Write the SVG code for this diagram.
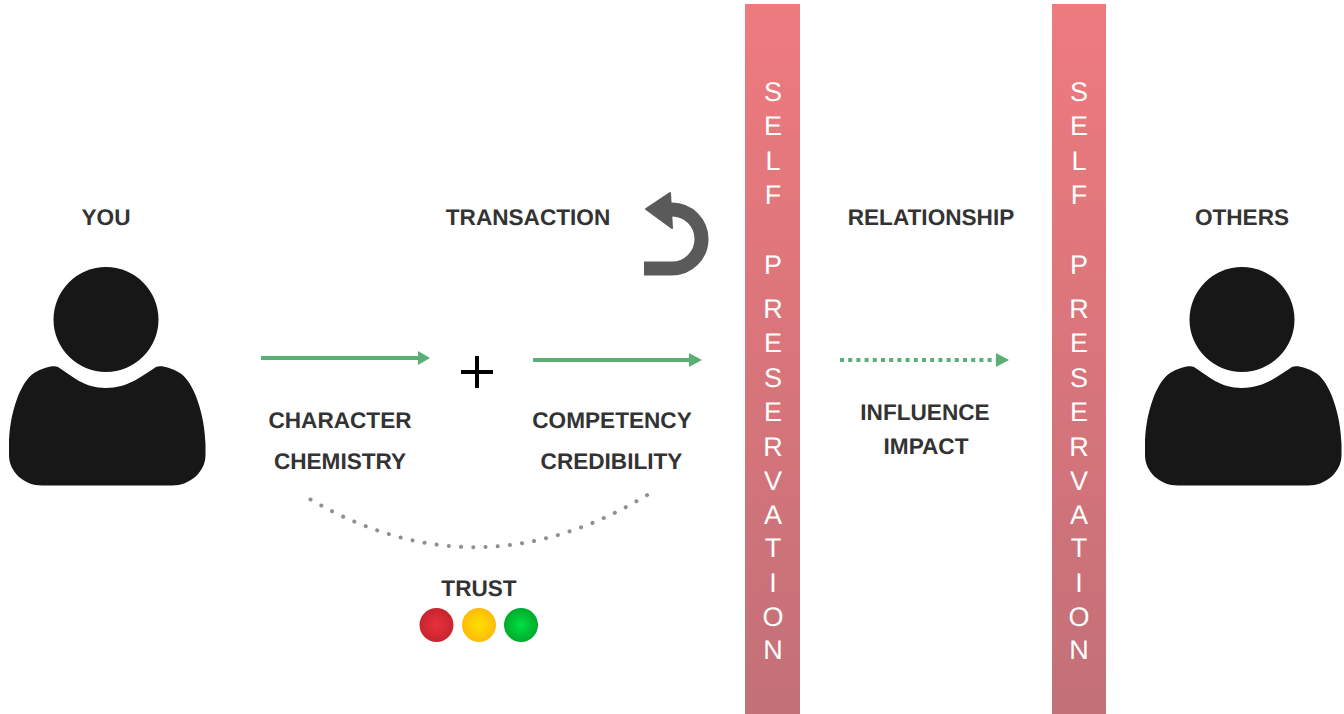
<svg xmlns="http://www.w3.org/2000/svg" width="1344" height="714" viewBox="0 0 1344 714">
<style>
text{text-rendering:geometricPrecision}
.t{font-family:"Liberation Sans",Arial,sans-serif;font-weight:700;font-size:22.600px;fill:#333;text-anchor:middle}
.v{font-family:"Liberation Sans",Arial,sans-serif;font-size:27px;fill:#fff;text-anchor:middle}
.c{fill:none;stroke:#5aaf74;stroke-width:4}
.h{fill:#5aaf74}
</style>
<defs>
<linearGradient id="bar" x1="0" y1="0" x2="0" y2="1"><stop offset="0" stop-color="#ee7a7e"/><stop offset="1" stop-color="#c37078"/></linearGradient>
<radialGradient id="r"><stop offset="0" stop-color="#e8323c"/><stop offset="1" stop-color="#c8242f"/></radialGradient>
<radialGradient id="y"><stop offset="0" stop-color="#ffe000"/><stop offset="1" stop-color="#fdbb0a"/></radialGradient>
<radialGradient id="g"><stop offset="0" stop-color="#00e040"/><stop offset="1" stop-color="#00aa2c"/></radialGradient>
<g id="person" fill="#171717">
<circle cx="106" cy="319.500" r="52.500"/>
<path d="M58 367C72 376 84 388 106 388C128 388 142 376 156 367C160 365 170 367 180 373C194 382 205 415 205.500 445V455C205.500 472 190 485.500 172 485.500H42C24 485.500 9 472 9 455V445C9 415 20 382 34 373C44 367 54 365 58 367Z"/>
</g>
</defs>
<g id="you"><use href="#person"/><text class="t" x="106" y="225">YOU</text></g>
<g id="others"><use href="#person" x="1136"/><text class="t" x="1242" y="225">OTHERS</text></g>
<g id="bar1"><rect x="745" y="4" width="55" height="710" fill="url(#bar)"/>
<g><text class="v" x="773" y="101">S</text><text class="v" x="773" y="135">E</text><text class="v" x="773" y="170">L</text><text class="v" x="773" y="204">F</text><text class="v" x="773" y="274">P</text><text class="v" x="773" y="318">R</text><text class="v" x="773" y="352">E</text><text class="v" x="773" y="387">S</text><text class="v" x="773" y="421">E</text><text class="v" x="773" y="456">R</text><text class="v" x="773" y="490">V</text><text class="v" x="773" y="524">A</text><text class="v" x="773" y="557">T</text><text class="v" x="773" y="592">I</text><text class="v" x="773" y="626">O</text><text class="v" x="773" y="659">N</text></g></g>
<g id="bar2"><rect x="1052" y="4" width="54" height="710" fill="url(#bar)"/>
<g><text class="v" x="1079" y="101">S</text><text class="v" x="1079" y="135">E</text><text class="v" x="1079" y="170">L</text><text class="v" x="1079" y="204">F</text><text class="v" x="1079" y="274">P</text><text class="v" x="1079" y="318">R</text><text class="v" x="1079" y="352">E</text><text class="v" x="1079" y="387">S</text><text class="v" x="1079" y="421">E</text><text class="v" x="1079" y="456">R</text><text class="v" x="1079" y="490">V</text><text class="v" x="1079" y="524">A</text><text class="v" x="1079" y="557">T</text><text class="v" x="1079" y="592">I</text><text class="v" x="1079" y="626">O</text><text class="v" x="1079" y="659">N</text></g></g>
<g id="connectors">
<path class="c" d="M261 358H420"/><path class="h" d="M418 351L430 358L418 365Z"/>
<path class="c" d="M533 360H691"/><path class="h" d="M689 353L702 360L689 367Z"/>
<path class="c" d="M840 360H998" stroke-dasharray="4 4.200"/><path class="h" d="M996 353L1009 360L996 367Z"/>
<path d="M310.500 499.500Q480 598 650.500 493" fill="none" stroke="#8f8f96" stroke-width="4" stroke-linecap="round" stroke-dasharray="0.100 12.150"/>
</g>
<g id="labels">
<text class="t" x="528" y="225">TRANSACTION</text>
<text class="t" x="931" y="225">RELATIONSHIP</text>
<text class="t" x="340" y="428">CHARACTER</text>
<text class="t" x="340" y="469">CHEMISTRY</text>
<text class="t" x="612" y="428">COMPETENCY</text>
<text class="t" x="611.500" y="469">CREDIBILITY</text>
<text class="t" x="925" y="420">INFLUENCE</text>
<text class="t" x="926" y="454">IMPACT</text>
<text class="t" x="479" y="596">TRUST</text>
</g>
<g id="plus"><path d="M477 356V388M461 372H493" stroke="#000" stroke-width="4" fill="none"/></g>
<g id="undo"><path d="M644 268.500H672A29.500 29.500 0 0 0 672 209.500H666" fill="none" stroke="#5a5a5a" stroke-width="14"/><path d="M646 209L670 193L672 228Z" fill="#5a5a5a" stroke="#5a5a5a" stroke-width="2" stroke-linejoin="round"/></g>
<g id="lights"><circle cx="436.500" cy="625" r="17" fill="url(#r)"/><circle cx="479" cy="625" r="17" fill="url(#y)"/><circle cx="521" cy="625" r="17" fill="url(#g)"/></g>
</svg>
